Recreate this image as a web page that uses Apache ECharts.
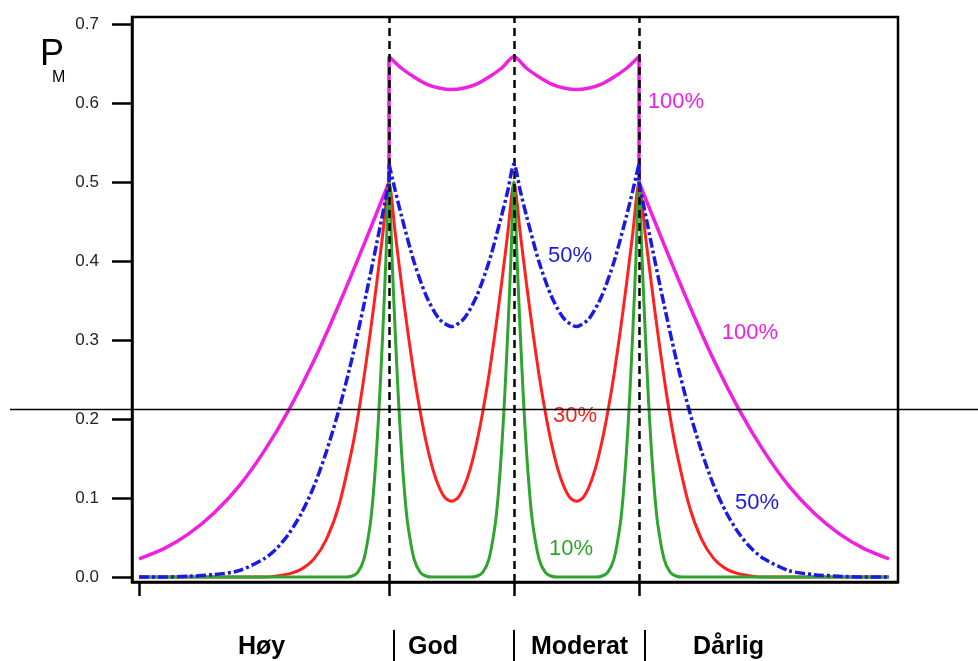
<!DOCTYPE html>
<html>
<head>
<meta charset="utf-8">
<script src="https://cdn.jsdelivr.net/npm/echarts@6/dist/echarts.min.js"></script>
<style>
  html, body { margin: 0; padding: 0; background: #fff; }
  #chart { width: 978px; height: 661px; }
</style>
</head>
<body>
<div id="chart"></div>
<script>
// ---- data (x in class-width units; class boundaries at 2, 3, 4) ----
const classBoundaries = [2, 3, 4];
const bottomTicks = [0, 2, 3, 4];
const yTicks = [0, 0.1, 0.2, 0.3, 0.4, 0.5, 0.6, 0.7];
const classNames = ['Høy', 'God', 'Moderat', 'Dårlig'];
const yTitle = 'P';
const yTitleSub = 'M';

const magentaX = [0,0.2,0.4,0.6,0.8,1.0,1.2,1.4,1.6,1.8,2.0,
  2.0,2.1,2.2,2.3,2.4,2.5,2.6,2.7,2.8,2.9,3.0,
  3.1,3.2,3.3,3.4,3.5,3.6,3.7,3.8,3.9,4.0,
  4.0,4.2,4.4,4.6,4.8,5.0,5.2,5.4,5.6,5.8,6.0];
const magentaY = [0.023,0.036,0.055,0.081,0.115,0.159,0.212,0.274,0.345,0.421,0.500,
  0.659,0.644,0.633,0.624,0.619,0.617,0.619,0.624,0.633,0.644,0.659,
  0.644,0.633,0.624,0.619,0.617,0.619,0.624,0.633,0.644,0.659,
  0.500,0.421,0.345,0.274,0.212,0.159,0.115,0.081,0.055,0.036,0.023];

const blueX = [0,0.2,0.4,0.6,0.8,1.0,1.1,1.2,1.3,1.4,1.5,1.6,1.7,1.8,1.9,2.0,
  2.0,2.05,2.1,2.2,2.3,2.4,2.5,2.6,2.7,2.8,2.9,2.95,3.0,
  3.05,3.1,3.2,3.3,3.4,3.5,3.6,3.7,3.8,3.9,3.95,4.0,
  4.0,4.1,4.2,4.3,4.4,4.5,4.6,4.7,4.8,4.9,5.0,5.2,5.4,5.6,5.8,6.0];
const blueY = [0.000,0.000,0.001,0.003,0.008,0.023,0.036,0.055,0.081,0.115,0.159,0.212,0.274,0.345,0.421,0.500,
  0.523,0.489,0.457,0.399,0.355,0.327,0.317,0.327,0.355,0.399,0.457,0.489,0.523,
  0.489,0.457,0.399,0.355,0.327,0.317,0.327,0.355,0.399,0.457,0.489,0.523,
  0.500,0.421,0.345,0.274,0.212,0.159,0.115,0.081,0.055,0.036,0.023,0.008,0.003,0.001,0.000,0.000];

const redX = [0,0.5,1.0,1.2,1.3,1.4,1.5,1.6,1.7,1.75,1.8,1.85,1.9,1.95,2.0,
  2.05,2.1,2.15,2.2,2.25,2.3,2.35,2.4,2.45,2.5,2.55,2.6,2.65,2.7,2.75,2.8,2.85,2.9,2.95,3.0,
  3.05,3.1,3.15,3.2,3.25,3.3,3.35,3.4,3.45,3.5,3.55,3.6,3.65,3.7,3.75,3.8,3.85,3.9,3.95,4.0,
  4.05,4.1,4.15,4.2,4.25,4.3,4.4,4.5,4.6,4.7,4.8,5.0,5.5,6.0];
const redY = [0.000,0.000,0.000,0.004,0.010,0.023,0.048,0.091,0.159,0.202,0.253,0.309,0.370,0.434,0.500,
  0.435,0.371,0.311,0.256,0.209,0.169,0.137,0.114,0.100,0.096,0.100,0.114,0.137,0.169,0.209,0.256,0.311,0.371,0.435,0.500,
  0.435,0.371,0.311,0.256,0.209,0.169,0.137,0.114,0.100,0.096,0.100,0.114,0.137,0.169,0.209,0.256,0.311,0.371,0.435,0.500,
  0.434,0.370,0.309,0.253,0.202,0.159,0.091,0.048,0.023,0.010,0.004,0.000,0.000,0.000];

const greenX = [0,1.0,1.5,1.6,1.65,1.7,1.75,1.8,1.85,1.875,1.9,1.925,1.95,1.975,2.0,
  2.025,2.05,2.075,2.1,2.125,2.15,2.2,2.25,2.3,2.35,2.4,2.6,2.65,2.7,2.75,2.8,2.85,2.875,2.9,2.925,2.95,2.975,3.0,
  3.025,3.05,3.075,3.1,3.125,3.15,3.2,3.25,3.3,3.35,3.4,3.6,3.65,3.7,3.75,3.8,3.85,3.875,3.9,3.925,3.95,3.975,4.0,
  4.025,4.05,4.075,4.1,4.125,4.15,4.2,4.25,4.3,4.35,4.4,4.5,5.0,6.0];
const greenY = [0,0,0,0.000,0.000,0.001,0.006,0.023,0.067,0.106,0.159,0.227,0.309,0.401,0.500,
  0.401,0.309,0.227,0.159,0.106,0.067,0.023,0.006,0.001,0.000,0.000,0.000,0.000,0.001,0.006,0.023,0.067,0.106,0.159,0.227,0.309,0.401,0.500,
  0.401,0.309,0.227,0.159,0.106,0.067,0.023,0.006,0.001,0.000,0.000,0.000,0.000,0.001,0.006,0.023,0.067,0.106,0.159,0.227,0.309,0.401,0.500,
  0.401,0.309,0.227,0.159,0.106,0.067,0.023,0.006,0.001,0.000,0.000,0,0,0];

// ---- build ----
const FONT = "'Liberation Sans', Arial, sans-serif";

// pair x/y; where an x repeats (a jump at a class boundary) the smooth pieces are
// split and the jump is drawn as its own short vertical piece
function zip(xs, ys) {
  const out = [];
  for (let i = 0; i < xs.length; i++) {
    if (i > 0 && xs[i] === xs[i - 1]) {
      out.push('-');
      out.push([xs[i - 1], ys[i - 1]]);
      out.push([xs[i], ys[i]]);
      out.push('-');
    }
    out.push([xs[i], ys[i]]);
  }
  return out;
}

function curveLabel(text, coord, color) {
  return {
    coord: coord, symbol: 'circle', symbolSize: 1,
    itemStyle: { color: 'rgba(0,0,0,0)' },
    label: { show: true, position: 'inside', formatter: text, color: color,
             fontSize: 22, fontFamily: FONT }
  };
}

function lineSeries(name, xs, ys, color, width, type, labels, z) {
  return {
    name: name, type: 'line', data: zip(xs, ys), showSymbol: false,
    smooth: 0.25, connectNulls: false, z: z,
    lineStyle: { color: color, width: width, type: type },
    itemStyle: { color: color },
    markPoint: { silent: true, animation: false, data: labels }
  };
}

const magenta = '#f020e0', blue = '#1a1ae6', red = '#ff2020', green = '#2fa52f';

const option = {
  animation: false,
  backgroundColor: '#fff',
  grid: { left: 132, right: 80, top: 17, bottom: 79, show: true,
          borderColor: '#000', borderWidth: 2.5, backgroundColor: 'transparent' },
  xAxis: {
    type: 'value', min: -0.056, max: 6.072,
    axisLine: { show: true, onZero: false, lineStyle: { color: '#000', width: 2.5 } },
    axisTick: { show: true, inside: false, length: 14, customValues: bottomTicks,
                lineStyle: { color: '#000', width: 2.5 } },
    axisLabel: { show: false },
    splitLine: { show: false }
  },
  yAxis: {
    type: 'value', min: -0.0063, max: 0.7089,
    axisLine: { show: true, onZero: false, lineStyle: { color: '#000', width: 2.5 } },
    axisTick: { show: true, inside: false, length: 20, customValues: yTicks,
                lineStyle: { color: '#000', width: 2.5 } },
    axisLabel: { show: true, customValues: yTicks, margin: 33,
                 formatter: v => v.toFixed(1), color: '#222', fontSize: 17, fontFamily: FONT },
    splitLine: { show: false }
  },
  series: [
    lineSeries('100%', magentaX, magentaY, magenta, 3.5, 'solid',
      [curveLabel('100%', [4.296, 0.601], magenta), curveLabel('100%', [4.888, 0.309], magenta)], 2),
    lineSeries('30%', redX, redY, red, 3, 'solid',
      [curveLabel('30%', [3.488, 0.204], red)], 3),
    lineSeries('10%', greenX, greenY, green, 3, 'solid',
      [curveLabel('10%', [3.456, 0.035], green)], 4),
    lineSeries('50%', blueX, blueY, blue, 3.5, [10, 3, 3, 3],
      [curveLabel('50%', [3.448, 0.406], blue), curveLabel('50%', [4.944, 0.094], blue)], 5),
    {
      name: 'boundaries', type: 'line', data: [], z: 10,
      markLine: {
        silent: true, symbol: 'none', animation: false,
        label: { show: false },
        lineStyle: { color: '#000', width: 2.5, type: [8, 5] },
        data: classBoundaries.map(b => ({ xAxis: b }))
      }
    }
  ],
  graphic: [
    { type: 'text', z: 100, style: { x: 40, y: 55, text: yTitle, fontSize: 36, fontFamily: FONT,
        fill: '#000', verticalAlign: 'middle', align: 'left' } },
    { type: 'text', z: 100, style: { x: 52, y: 78, text: yTitleSub, fontSize: 16, fontFamily: FONT,
        fill: '#000', verticalAlign: 'middle', align: 'left' } },
    { type: 'line', z: 100, shape: { x1: 10, y1: 409.5, x2: 978, y2: 409.5 },
      style: { stroke: '#000', lineWidth: 1.5 } },
    ...[261.5, 433, 579.5, 728.5].map((cx, i) => ({
      type: 'text', z: 100,
      style: { x: cx, y: 647, text: classNames[i], fontSize: 25, fontWeight: 'bold', fontFamily: FONT,
               fill: '#000', align: 'center', verticalAlign: 'middle' } })),
    ...[394, 514, 645].map(sx => ({
      type: 'line', z: 100, shape: { x1: sx, y1: 630, x2: sx, y2: 661 },
      style: { stroke: '#000', lineWidth: 2 } }))
  ]
};

echarts.init(document.getElementById('chart'), null, { renderer: 'canvas' }).setOption(option);
</script>
</body>
</html>
